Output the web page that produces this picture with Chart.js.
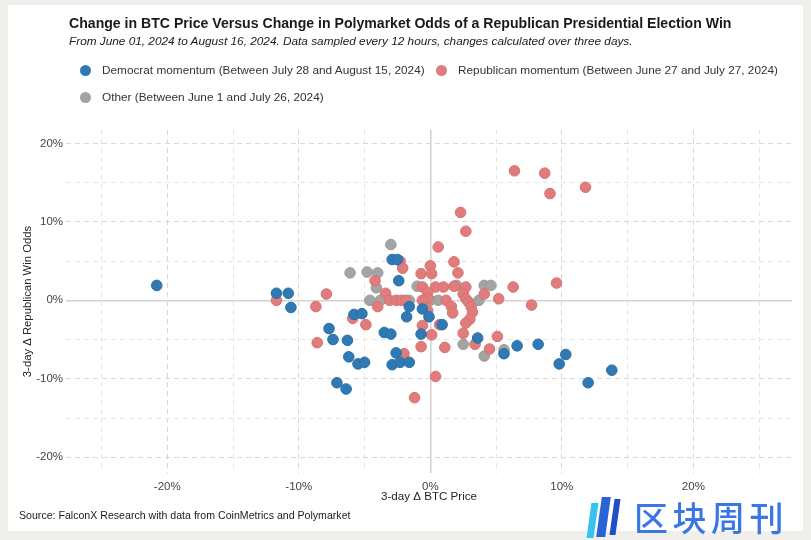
<!DOCTYPE html>
<html><head><meta charset="utf-8">
<script src="https://cdn.jsdelivr.net/npm/chart.js@4.4.1/dist/chart.umd.min.js"></script>
<style>
html,body{margin:0;padding:0;background:#f0efeb;}
#wrap{position:relative;width:811px;height:540px;overflow:hidden;background:#f0efeb;font-family:"Liberation Sans",Arial,Helvetica,sans-serif;}
#card{position:absolute;left:8px;top:5px;width:795px;height:526px;background:#fff;}
#c{position:absolute;left:0;top:0;z-index:1;}
.t{position:absolute;white-space:nowrap;color:#1a1a1a;line-height:1;z-index:2;}
.dot{position:absolute;width:11px;height:11px;border-radius:50%;z-index:2;}
.bar{position:absolute;z-index:2;transform:skewX(-8deg);}
</style></head>
<body>
<div id="wrap">
  <div id="card"></div>
  <canvas id="c" width="811" height="540"></canvas>
  <div class="t" id="title" style="left:69px;top:15.5px;font-size:14.1px;font-weight:bold;"></div>
  <div class="t" id="subtitle" style="left:69px;top:35.5px;font-size:11.8px;font-style:italic;"></div>
  <div class="dot" style="left:80px;top:65px;background:#2f7ab5;"></div>
  <div class="t" id="lg0" style="left:102px;top:64.5px;font-size:11.8px;color:#333;"></div>
  <div class="dot" style="left:436px;top:65px;background:#e07c7c;"></div>
  <div class="t" id="lg1" style="left:458px;top:64.5px;font-size:11.8px;color:#333;"></div>
  <div class="dot" style="left:80px;top:92px;background:#a4a4a4;"></div>
  <div class="t" id="lg2" style="left:102px;top:91.5px;font-size:11.8px;color:#333;"></div>
  <div class="t" id="source" style="left:19px;top:510px;font-size:10.6px;"></div>
  <div class="bar" style="left:589px;top:503px;width:7px;height:35px;background:#37c3f0;"></div>
  <div class="bar" style="left:599px;top:497px;width:9px;height:40px;background:#2a63d8;"></div>
  <div class="bar" style="left:612px;top:499px;width:6px;height:36px;background:#1f4fc4;"></div>
  <div class="t" id="wm" style="left:634px;top:500px;font-size:34px;font-family:'Noto Sans CJK SC',sans-serif;font-weight:500;color:#3a77e4;letter-spacing:4.5px;"></div>
</div>
<script>
// ---- texts ----
const titleText = "Change in BTC Price Versus Change in Polymarket Odds of a Republican Presidential Election Win";
const subtitleText = "From June 01, 2024 to August 16, 2024. Data sampled every 12 hours, changes calculated over three days.";
const seriesNames = [
  "Democrat momentum (Between July 28 and August 15, 2024)",
  "Republican momentum (Between June 27 and July 27, 2024)",
  "Other (Between June 1 and July 26, 2024)"
];
const xAxisTitle = "3-day \u0394 BTC Price";
const yAxisTitle = "3-day \u0394 Republican Win Odds";
const sourceText = "Source: FalconX Research with data from CoinMetrics and Polymarket";
const watermarkText = "区块周刊";
const tickLabelValues = [-20, -10, 0, 10, 20];

// ---- data (percent) ----
const demX = [-20.8,-11.7,-10.8,-10.6,-7.7,-7.4,-6.3,-6.2,-5.5,-5.0,
              -7.1,-6.4,-5.8,-5.2,-3.5,-3.0,-2.6,-2.9,-2.3,-1.6,
              -2.9,-2.5,-2.4,-1.6,-1.8,-0.7,-0.6,-0.1,0.9,3.6,
              5.6,6.6,8.2,9.8,10.3,12.0,13.8];
const demY = [1.9,0.9,0.9,-0.9,-3.6,-5.0,-5.1,-7.2,-8.1,-7.9,
              -10.5,-11.3,-1.8,-1.7,-4.1,-4.3,-6.7,-8.2,-7.9,-7.9,
              5.2,5.2,2.5,-0.8,-2.1,-4.3,-1.1,-2.1,-3.1,-4.8,
              -6.8,-5.8,-5.6,-8.1,-6.9,-10.5,-8.9];

const repX = [-11.7,-7.9,-8.7,-8.6,-5.9,-4.9,-4.0,-4.2,-3.4,-2.3,
              -2.1,-3.1,-2.6,-2.2,-1.9,-2.0,-1.2,0.4,-0.7,0.1,
              1.1,0.6,0.0,-0.7,0.1,1.8,2.1,-0.6,0.4,1.0,
              1.8,2.7,-0.2,-0.5,-0.2,1.2,1.6,1.7,-0.2,0.7,
              6.4,8.7,11.8,9.1,2.3,2.7,9.6,6.3,4.1,2.5,
              5.2,2.7,2.9,3.1,3.2,7.7,3.0,2.7,2.5,3.4,
              5.1,4.5,-0.6,-0.6];
const repY = [0,0.8,-0.8,-5.4,-2.3,-3.1,-0.8,2.5,0.9,5.0,
              4.1,0,0,0,0,-6.8,-12.4,-9.7,-5.9,-4.4,
              -6.0,6.8,4.4,3.4,3.4,4.9,3.5,1.7,1.7,1.7,
              1.8,1.7,1.0,0,0.2,0,-0.8,-1.6,-1.3,-3.1,
              16.5,16.2,14.4,13.6,11.2,8.8,2.2,1.7,0.8,0.8,
              0.2,0.2,-0.2,-0.8,-1.5,-0.6,-2.4,-2.9,-4.2,-5.6,
              -4.6,-6.2,-3.2,0];

const othX = [-3.0,-6.1,-4.8,-4.0,-4.1,-1.0,-4.6,-3.8,-1.6,0.6,
              3.7,4.1,4.6,2.0,2.5,4.1,5.6,0.0];
const othY = [7.1,3.5,3.6,3.5,1.6,1.8,0,0,0,0,
              0,1.9,1.9,1.9,-5.6,-7.1,-6.3,0];

// ---- fill texts ----
document.getElementById('title').textContent = titleText;
document.getElementById('subtitle').textContent = subtitleText;
document.getElementById('lg0').textContent = seriesNames[0];
document.getElementById('lg1').textContent = seriesNames[1];
document.getElementById('lg2').textContent = seriesNames[2];
document.getElementById('source').textContent = sourceText;
document.getElementById('wm').textContent = watermarkText;

const pairs = (xs, ys) => xs.map((x, i) => ({x: x, y: ys[i]}));

const gridColor = ctx => {
  const v = ctx.tick ? ctx.tick.value : null;
  if (v === 0) return '#d3d3d3';
  if (v !== null && v % 10 === 0) return '#d8d8d8';
  return '#e5e5e5';
};
const gridWidth = ctx => (ctx.tick && ctx.tick.value === 0) ? 1.6 : 1;
const gridDash = ctx => (ctx.tick && ctx.tick.value === 0) ? [] : [5, 4];
const tickCb = v => tickLabelValues.includes(Math.round(v)) && Math.abs(v - Math.round(v)) < 1e-6 ? Math.round(v) + '%' : '';
const fam = "'Liberation Sans', Arial, sans-serif";

new Chart(document.getElementById('c'), {
  type: 'scatter',
  data: {
    datasets: [
      {label: seriesNames[0], data: pairs(demX, demY), backgroundColor: '#2f7ab5', borderColor: '#2a6fa6', borderWidth: 1, pointRadius: 5.3},
      {label: seriesNames[1], data: pairs(repX, repY), backgroundColor: '#e07c7c', borderColor: '#d67272', borderWidth: 1, pointRadius: 5.3},
      {label: seriesNames[2], data: pairs(othX, othY), backgroundColor: '#a4a4a4', borderColor: '#9b9b9b', borderWidth: 1, pointRadius: 5.3}
    ]
  },
  options: {
    responsive: false,
    animation: false,
    events: [],
    layout: {padding: {left: 8, right: 19, top: 130, bottom: 33}},
    plugins: {legend: {display: false}, tooltip: {enabled: false}, title: {display: false}},
    scales: {
      x: {
        type: 'linear', min: -27.7, max: 27.5,
        afterFit: s => { s.height = 34; },
        ticks: {stepSize: 5, includeBounds: false, autoSkip: false, maxRotation: 0, padding: 6.5,
                color: '#444', font: {family: fam, size: 11.5}, callback: tickCb},
        grid: {color: gridColor, lineWidth: gridWidth, drawTicks: false},
        border: {display: false, dash: gridDash},
        title: {display: true, text: xAxisTitle, color: '#222', padding: {top: 0, bottom: 3.2},
                font: {family: fam, size: 11.6}}
      },
      y: {
        type: 'linear', min: -22, max: 21.7,
        afterFit: s => { s.width = 58; },
        ticks: {stepSize: 5, includeBounds: false, autoSkip: false, padding: 3,
                color: '#444', font: {family: fam, size: 11.5}, callback: tickCb},
        grid: {color: gridColor, lineWidth: gridWidth, drawTicks: false},
        border: {display: false, dash: gridDash},
        title: {display: true, text: yAxisTitle, color: '#222', padding: {top: 13, bottom: 0},
                font: {family: fam, size: 11.3}}
      }
    }
  }
});
</script>
</body></html>
